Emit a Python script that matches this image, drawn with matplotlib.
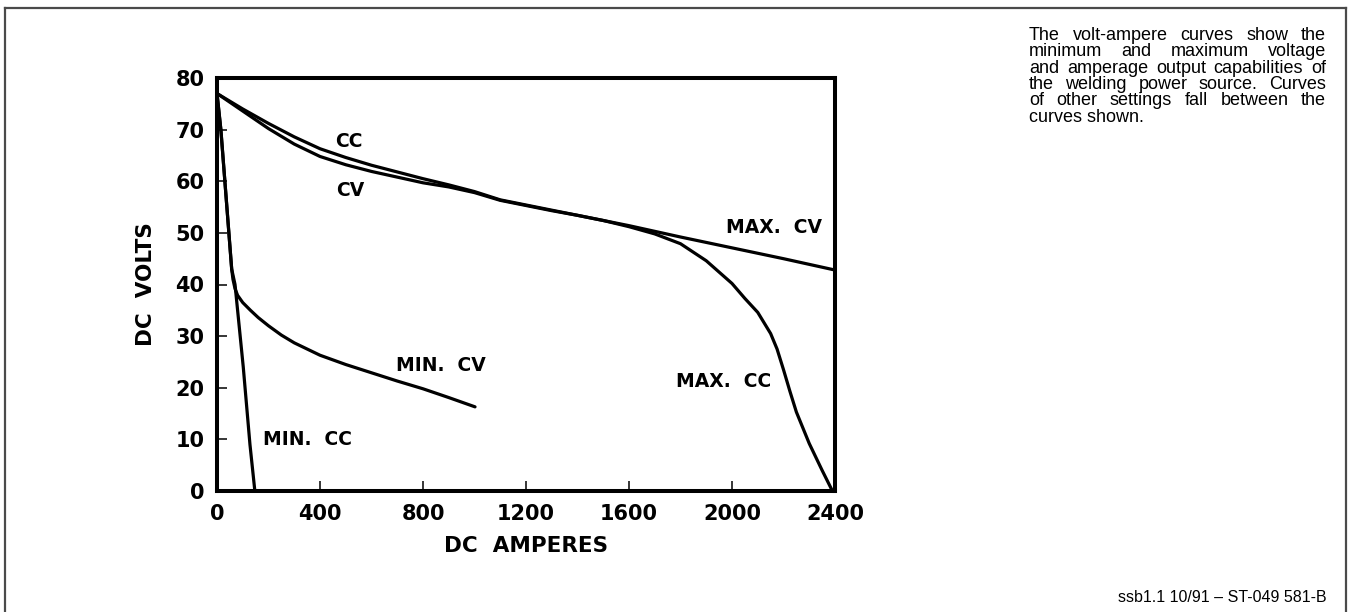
import matplotlib
matplotlib.use("Agg")
import matplotlib.pyplot as plt
from matplotlib.lines import Line2D

# ---------------- data ----------------
max_cc_a = [0, 100, 200, 300, 400, 500, 600, 700, 800, 900, 1000, 1100, 1200, 1300,
            1400, 1500, 1600, 1700, 1800, 1900, 2000, 2050, 2100, 2150, 2175, 2200,
            2225, 2250, 2300, 2350, 2390]
max_cc_v = [77, 74.0, 71.2, 68.6, 66.3, 64.6, 63.1, 61.8, 60.5, 59.3, 58.0, 56.4, 55.4, 54.4,
            53.4, 52.4, 51.2, 49.8, 47.9, 44.6, 40.2, 37.3, 34.6, 30.5, 27.5, 23.5,
            19.3, 15.3, 9.2, 4.0, 0]

max_cv_a = [0, 100, 200, 300, 400, 500, 600, 700, 800, 900, 1000, 1100, 1200, 1300,
            1400, 1500, 1600, 1800, 2000, 2200, 2400]
max_cv_v = [77, 73.6, 70.2, 67.2, 64.8, 63.2, 61.9, 60.8, 59.7, 58.9, 57.8, 56.3, 55.3, 54.3,
            53.4, 52.4, 51.4, 49.2, 47.1, 45.0, 42.8]

min_cc_a = [0, 15, 57, 70, 102, 128, 147]
min_cc_v = [77, 70, 43, 40, 24, 9, 0]

min_cv_a = [0, 15, 57, 62, 70, 80, 100, 130, 160, 200, 250, 300, 400, 500, 600, 700,
            800, 900, 1002]
min_cv_v = [77, 70, 43, 41, 39.2, 37.9, 36.5, 35.0, 33.6, 32.0, 30.2, 28.7, 26.3, 24.5,
            22.9, 21.3, 19.8, 18.1, 16.3]

x_ticks = [0, 400, 800, 1200, 1600, 2000, 2400]
y_ticks = [0, 10, 20, 30, 40, 50, 60, 70, 80]

curve_labels = ["CC", "CV", "MIN.  CV", "MIN.  CC", "MAX.  CC", "MAX.  CV"]
curve_label_a = [513, 516, 870, 351, 1969, 2163]
curve_label_v = [67.7, 58.3, 24.4, 9.9, 21.2, 51.0]

note_lines = ["The volt-ampere curves show the",
              "minimum and maximum voltage",
              "and amperage output capabilities of",
              "the welding power source. Curves",
              "of other settings fall between the",
              "curves shown."]
footer = "ssb1.1 10/91 \u2013 ST-049 581-B"

# ---------------- figure ----------------
W, H = 1348, 612
fig = plt.figure(figsize=(W / 100, H / 100), dpi=100)
fig.patch.set_facecolor("white")

def fx(px):
    return px / W

def fy(py):
    return 1 - py / H

# outer frame (left, top, right)
frame_kw = dict(color="#4a4a4a", lw=1.6, transform=fig.transFigure)
fig.add_artist(Line2D([fx(5), fx(5)], [fy(8), 0], **frame_kw))
fig.add_artist(Line2D([fx(5), fx(1346)], [fy(8), fy(8)], **frame_kw))
fig.add_artist(Line2D([fx(1346), fx(1346)], [fy(8), 0], **frame_kw))

ax_l, ax_r, ax_t, ax_b = 217, 835, 78, 491
ax = fig.add_axes([fx(ax_l), fy(ax_b), fx(ax_r - ax_l), (ax_b - ax_t) / H])
ax.set_xlim(0, 2400)
ax.set_ylim(0, 80)

lw = 2.3
for a, v in [(max_cc_a, max_cc_v), (max_cv_a, max_cv_v),
             (min_cc_a, min_cc_v), (min_cv_a, min_cv_v)]:
    ax.plot(a, v, color="black", lw=lw, solid_capstyle="round",
            solid_joinstyle="round", clip_on=False)

for s in ax.spines.values():
    s.set_linewidth(2.9)
    s.set_color("black")

ax.set_xticks(x_ticks)
ax.set_yticks(y_ticks)
bold = dict(family="DejaVu Sans", weight="bold")
ax.set_xticklabels([str(t) for t in x_ticks], fontsize=15, **bold)
ax.set_yticklabels([str(t) for t in y_ticks], fontsize=15, **bold)
ax.tick_params(direction="in", length=7, width=1.1, pad=9, colors="black")

for t, a, v in zip(curve_labels, curve_label_a, curve_label_v):
    ax.text(a, v, t, ha="center", va="center", fontsize=13.5, **bold)

# axis titles
fig.text(fx(146), fy(284), "DC  VOLTS", rotation=90, ha="center", va="center",
         fontsize=15.5, **bold)
fig.text(fx(526), fy(546), "DC  AMPERES", ha="center", va="center",
         fontsize=15.5, **bold)

# ---------------- justified note ----------------
note_fs = 13
left_px, right_px = 1029, 1326
base0, step = 40, 16.3
renderer = fig.canvas.get_renderer()
for i, line in enumerate(note_lines):
    yb = fy(base0 + i * step)
    if i == len(note_lines) - 1:
        fig.text(fx(left_px), yb, line, ha="left", va="baseline",
                 fontsize=note_fs, family="Liberation Sans")
        continue
    words = line.split(" ")
    texts = [fig.text(0, yb, w, ha="left", va="baseline", fontsize=note_fs,
                      family="Liberation Sans") for w in words]
    widths = [t.get_window_extent(renderer=renderer).width for t in texts]
    gap = (right_px - left_px - sum(widths)) / (len(words) - 1)
    x = left_px
    for t, w in zip(texts, widths):
        t.set_x(fx(x))
        x += w + gap

fig.text(fx(1327), fy(602), footer, ha="right", va="baseline",
         fontsize=11.5, family="Liberation Sans")

fig.savefig("out.png", dpi=100)
